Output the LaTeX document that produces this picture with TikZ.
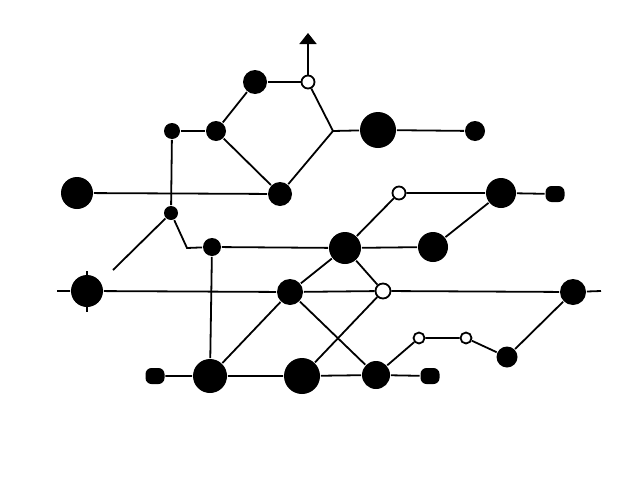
\documentclass[tikz,border=0pt]{standalone}
\usepackage{tikz}
\usetikzlibrary{arrows.meta}
\usetikzlibrary{positioning}
\usetikzlibrary{backgrounds}
\tikzstyle{station}=[fill=black,circle,inner sep=0pt]
\tikzstyle{hollow}=[draw,fill=white,circle,inner sep=0pt]
\tikzstyle{stub}=[fill=black,rectangle,rounded corners=6pt,minimum width=19pt,minimum height=16pt,inner sep=0pt]
\tikzstyle{track}=[line width=1.8pt]

\begin{document}
\begin{tikzpicture}[x=1pt,y=-1pt,line width=1.8pt]
\useasboundingbox (0,0) rectangle (640,482);
\node [station,minimum size=24pt] (a) at (255,82) {};
\node [hollow,minimum size=13pt] (b) at (308,82) {};
\node [station,minimum size=16pt] (c) at (172,131) {};
\node [station,minimum size=20pt] (d) at (216,131) {};
\node [station,minimum size=36pt] (e) at (378,130) {};
\node [station,minimum size=20pt] (f) at (475,131) {};
\node [station,minimum size=32pt] (g) at (77,193) {};
\node [station,minimum size=24pt] (h) at (280,194) {};
\node [hollow,minimum size=13pt] (i) at (399,193) {};
\node [station,minimum size=30pt] (j) at (501,193) {};
\node [stub] (k) at (555,194) {};
\node [station,minimum size=14pt] (l) at (171,213) {};
\node [station,minimum size=18pt] (m) at (212,247) {};
\node [station,minimum size=32pt] (n) at (345,248) {};
\node [station,minimum size=30pt] (o) at (433,247) {};
\node [station,minimum size=32pt] (p) at (87,291) {};
\node [station,minimum size=26pt] (q) at (290,292) {};
\node [hollow,minimum size=15pt] (r) at (383,291) {};
\node [station,minimum size=26pt] (s) at (573,292) {};
\node [hollow,minimum size=11pt] (t) at (419,338) {};
\node [hollow,minimum size=11pt] (u) at (466,338) {};
\node [station,minimum size=21pt] (v) at (507,357) {};
\node [stub] (w) at (155,376) {};
\node [station,minimum size=34pt] (x) at (210,376) {};
\node [station,minimum size=36pt] (y) at (302,376) {};
\node [station,minimum size=28pt] (z) at (376,375) {};
\node [stub] (stop) at (430,376) {};
\coordinate (top) at (308,33);
\coordinate (fork) at (333,131);
\coordinate (bend) at (187,248);
\coordinate (loose) at (113,270);
\coordinate (west) at (57,291);
\coordinate (east) at (601,291);
\coordinate (ptop) at (87,271);
\coordinate (pbot) at (87,312);
\begin{scope}[on background layer={track}]
\draw (a) -- (b);
\draw [-{Triangle[width=17pt,length=11pt]}] (b) -- (top);
\draw (b) -- (fork) -- (e) -- (f);
\draw (fork) -- (h);
\draw (a) -- (d) -- (h);
\draw (c) -- (d);
\draw (g) -- (h);
\draw (c) -- (l);
\draw (i) -- (j) -- (k);
\draw (i) -- (n);
\draw (j) -- (o);
\draw (loose) -- (l) -- (bend) -- (m) -- (n) -- (o);
\draw (m) -- (x);
\draw (x) -- (q) -- (n);
\draw (n) -- (r) -- (y);
\draw (q) -- (z);
\draw (west) -- (p) -- (q) -- (r) -- (s) -- (east);
\draw (ptop) -- (pbot);
\draw (w) -- (x) -- (y) -- (z) -- (stop);
\draw (z) -- (t) -- (u) -- (v) -- (s);
\end{scope}
\end{tikzpicture}
\end{document}
